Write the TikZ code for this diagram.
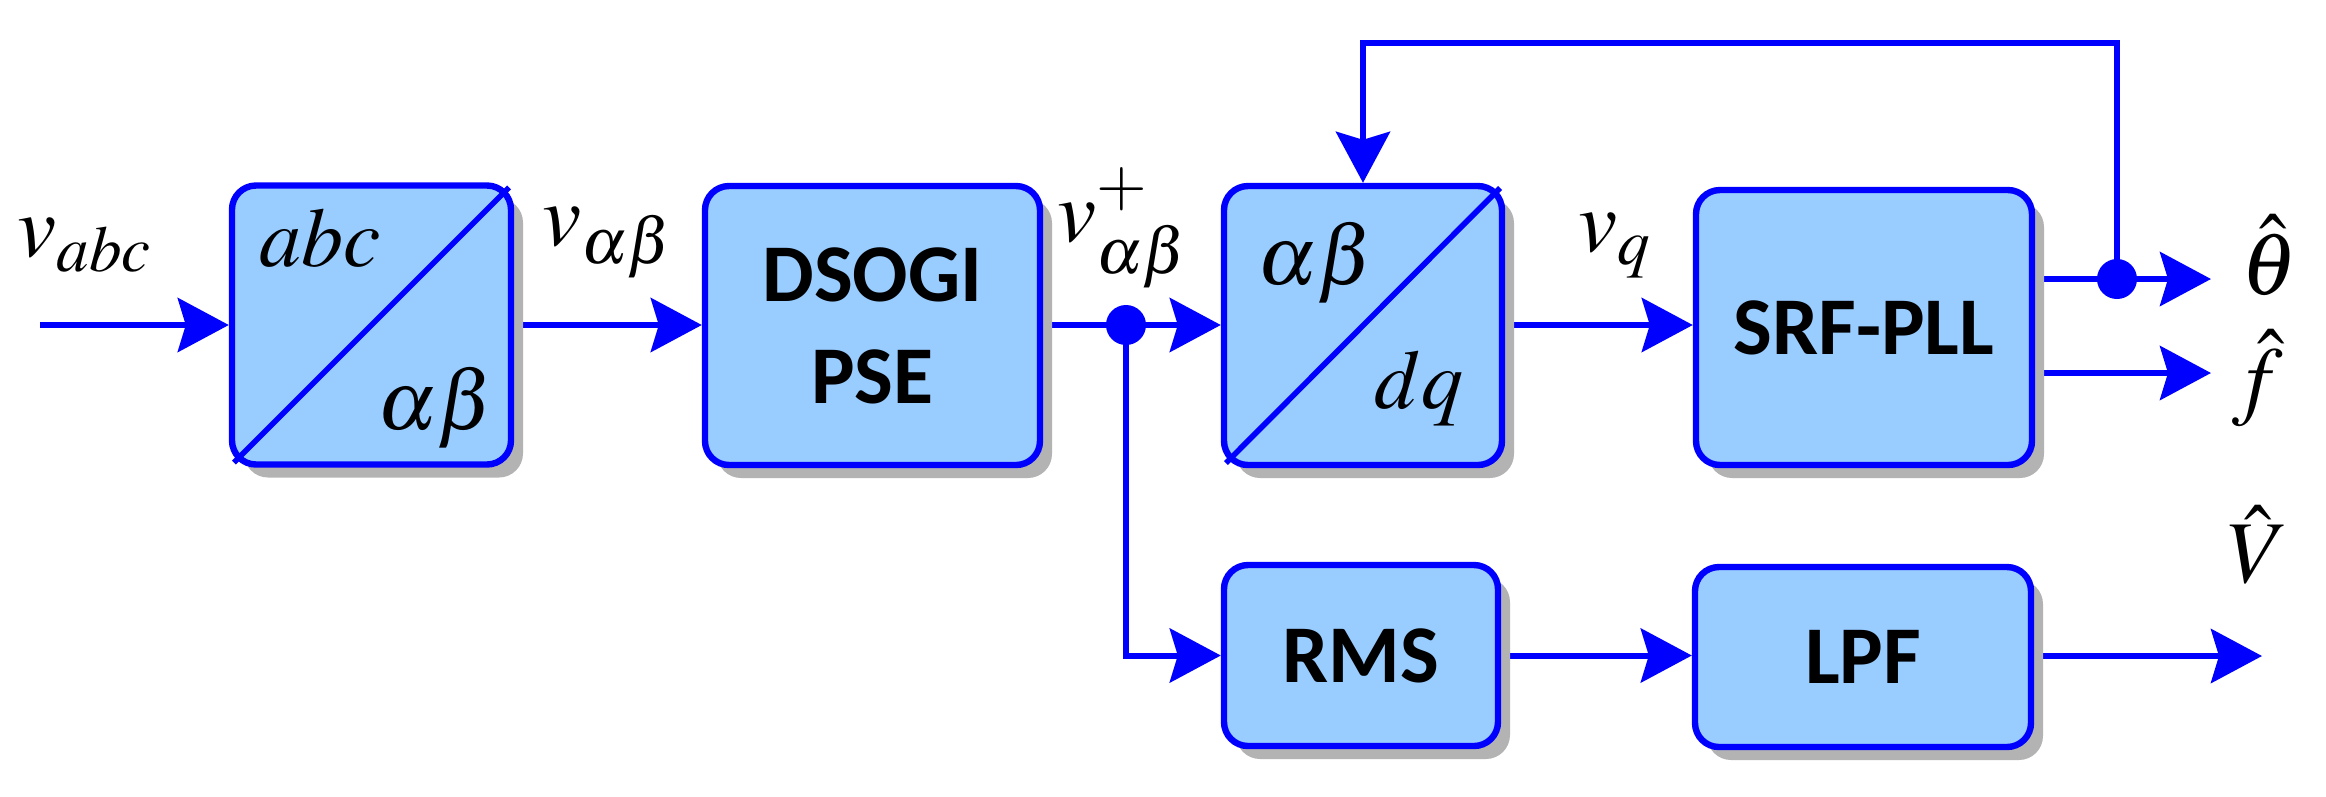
\documentclass[tikz,border=0pt]{standalone}
\usepackage{mathptmx}
\usepackage[no-math]{fontspec}
\newfontfamily\calib{Carlito}
\usetikzlibrary{arrows.meta,shadows,calc}
\definecolor{lb}{HTML}{99CCFF}
\definecolor{bl}{HTML}{0000FF}
\definecolor{sh}{HTML}{B3B3B3}
\pgfdeclarelayer{bg}
\pgfsetlayers{bg,main}
\begin{document}
\begin{tikzpicture}[x=0.25pt,y=-0.25pt,
  blk/.style={draw=bl, line width=1.6pt, fill=lb, rounded corners=6pt,
    drop shadow={shadow xshift=3pt, shadow yshift=-3.25pt, fill=sh, opacity=1},
    inner sep=0pt, align=center, font=\calib\bfseries\fontsize{20.5}{25.5}\selectfont},
  wire/.style={draw=bl, line width=1.5pt},
  arr/.style={wire, -{Stealth[length=12.75pt,width=13.5pt,inset=2pt]}},
  dot/.style={circle, fill=bl, inner sep=0pt, minimum size=10pt},
  lbl/.style={inner sep=0pt, font=\fontsize{22}{26}\selectfont},
  inl/.style={inner sep=0pt, font=\fontsize{21}{25}\selectfont},
  diag/.style={draw=bl, line width=1.4pt, shorten <=1.8pt, shorten >=1.8pt}]
\useasboundingbox (0,0) rectangle (2326,796);

% blocks
\node[blk, minimum width=69.75pt, minimum height=69.75pt] (b1) at (371.5,325) {};
\node[blk, minimum width=83.75pt, minimum height=69.75pt] (dsogi) at (872.5,325.5) {DSOGI\\PSE};
\node[blk, minimum width=69.5pt, minimum height=69.75pt] (b2) at (1363,325.5) {};
\node[blk, minimum width=84pt, minimum height=68.75pt] (srf) at (1864,327.5) {SRF-PLL};
\node[blk, minimum width=68.5pt, minimum height=45.25pt] (rms) at (1361,655.5) {RMS};
\node[blk, minimum width=84pt, minimum height=45pt] (lpf) at (1863,657) {LPF};

% transformation diagonals and texts
\draw[diag] (b1.south west) -- (b1.north east);
\draw[diag] (b2.south west) -- (b2.north east);
\node[inl] (t1) at (320,238) {$abc$};
\node[inl] (t2) at (436,408) {$\alpha\beta$};
\node[inl] (t3) at (1316,263) {$\alpha\beta$};
\node[inl] (t4) at (1419,388) {$dq$};

% junction dots
\node[dot] (d1) at (1126,325) {};
\node[dot] (d2) at (2117,279) {};

% free ends
\coordinate (in) at (40,325);
\coordinate (fb) at (2117,43);
\coordinate (tt) at (2211,279);
\coordinate (ft) at (2211,373);
\coordinate (vt) at (2262,656);

% connectors
\begin{pgfonlayer}{bg}
\draw[arr] (in) -- (b1.west);
\draw[arr] (b1.east) -- (b1.east -| dsogi.west);
\draw[arr] (dsogi.east |- d1) -- (d1 -| b2.west);
\draw[arr] (d1.center) |- (rms.west);
\draw[arr] (b2.east |- d1) -- (d1 -| srf.west);
\draw[arr] (srf.east |- tt) -- (tt);
\draw[arr] (srf.east |- ft) -- (ft);
\draw[arr] (d2.center) -- (fb) -| (b2.north);
\draw[arr] (rms.east) -- (rms.east -| lpf.west);
\draw[arr] (lpf.east |- vt) -- (vt);
\end{pgfonlayer}

% signal labels
\node[lbl] (lin) at (85,245) {$v_{abc}$};
\node[lbl] (lab) at (608,243) {$v_{\alpha\beta}$};
\node[lbl] (lpl) at (1123,228) {$v_{\alpha\beta}^{+}$};
\node[lbl] (lq) at (1615,246) {$v_{q}$};
\node[lbl] (lth) at (2269,255) {$\hat{\theta}$};
\node[lbl] (lf) at (2258,378) {$\hat{f}$};
\node[lbl] (lv) at (2258,545) {$\hat{V}$};
\end{tikzpicture}
\end{document}
